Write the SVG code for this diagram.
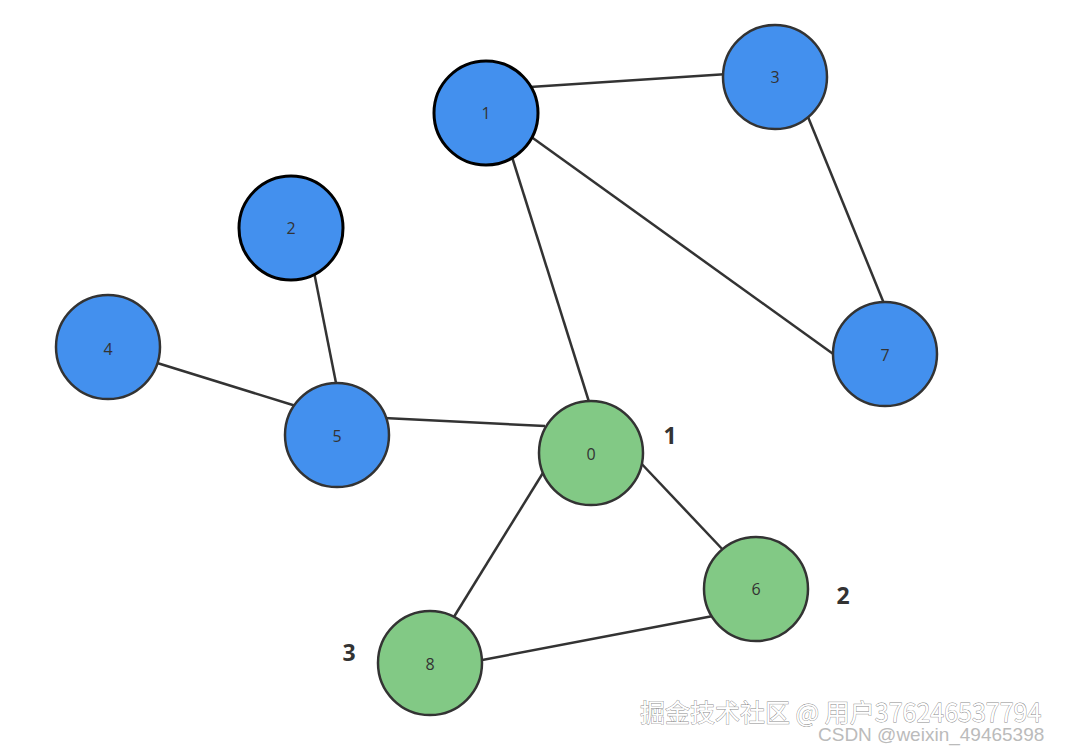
<svg xmlns="http://www.w3.org/2000/svg" width="1066" height="747" viewBox="0 0 1066 747">
<style>
.e{stroke:#333;stroke-width:2.5;fill:none}
.b{fill:#4390EE;stroke:#333;stroke-width:2.5}
.bk{fill:#4390EE;stroke:#000;stroke-width:3}
.g{fill:#82C985;stroke:#333;stroke-width:2.5}
.t{font-family:"Open Sans","Noto Sans",sans-serif;font-size:16px;fill:#333;text-anchor:middle;dominant-baseline:central}
.l{font-family:"Open Sans","Noto Sans",sans-serif;font-size:23px;font-weight:bold;fill:#333;text-anchor:middle;dominant-baseline:central}
.wm{font-family:"Noto Sans CJK SC","Noto Sans",sans-serif;font-size:25px;fill:#fff;stroke:#888;stroke-width:0.8;paint-order:stroke}
.cs{font-family:"Liberation Sans",Arial,sans-serif;font-size:19px;fill:#bbb}
</style>
<rect width="1066" height="747" fill="#fff"/>
<g id="edges">
<line class="e" x1="530" y1="87" x2="728" y2="74"/>
<line class="e" x1="806" y1="112" x2="885" y2="306"/>
<line class="e" x1="530" y1="136" x2="836" y2="356"/>
<line class="e" x1="512" y1="157" x2="590" y2="405"/>
<line class="e" x1="314" y1="272" x2="337" y2="388"/>
<line class="e" x1="154" y1="362" x2="296" y2="406"/>
<line class="e" x1="384" y1="418" x2="545" y2="426"/>
<line class="e" x1="638" y1="460" x2="725" y2="552"/>
<line class="e" x1="546" y1="468" x2="452" y2="620"/>
<line class="e" x1="713" y1="616" x2="477" y2="661"/>
</g>
<g id="n1"><circle class="bk" cx="486" cy="113" r="52"/><text class="t" x="486" y="113">1</text></g>
<g id="n3"><circle class="b" cx="775" cy="77" r="52"/><text class="t" x="775" y="77">3</text></g>
<g id="n2"><circle class="bk" cx="291" cy="228" r="52"/><text class="t" x="291" y="228">2</text></g>
<g id="n4"><circle class="b" cx="108" cy="347" r="52"/><text class="t" x="108" y="349">4</text></g>
<g id="n5"><circle class="b" cx="337" cy="435" r="52"/><text class="t" x="337" y="436">5</text></g>
<g id="n7"><circle class="b" cx="885" cy="354" r="52"/><text class="t" x="885" y="355">7</text></g>
<g id="n0"><circle class="g" cx="591" cy="453" r="52"/><text class="t" x="591" y="454">0</text></g>
<g id="n6"><circle class="g" cx="756" cy="589" r="52"/><text class="t" x="756" y="589">6</text></g>
<g id="n8"><circle class="g" cx="430" cy="663" r="52"/><text class="t" x="430" y="664">8</text></g>
<g id="labels">
<text class="l" x="670" y="435">1</text>
<text class="l" x="843" y="595">2</text>
<text class="l" x="349" y="652">3</text>
</g>
<g id="watermark">
<text class="wm" x="640" y="722">掘金技术社区 @ 用户376246537794</text>
<text class="cs" x="818" y="741">CSDN @weixin_49465398</text>
</g>
</svg>
